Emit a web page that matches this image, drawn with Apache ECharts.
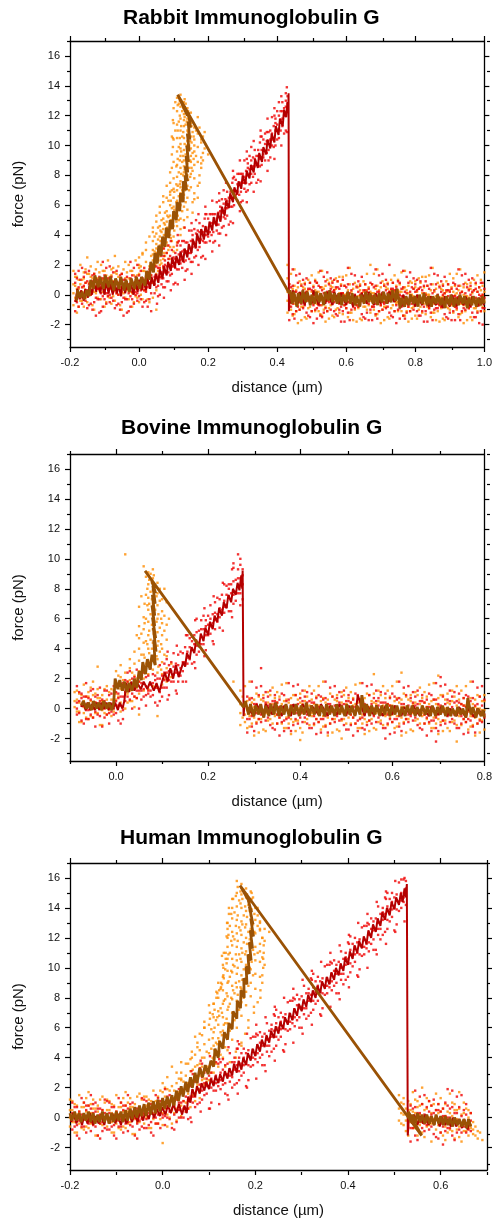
<!DOCTYPE html>
<html><head><meta charset="utf-8">
<script src="https://cdn.jsdelivr.net/npm/echarts@6/dist/echarts.min.js"></script>
<style>html,body{margin:0;padding:0;background:#fff}#c{width:495px;height:1219px}</style>
</head><body><div id="c"></div>
<script>
// ---------- DATA (columns: [x, y1, y2, ...]) ----------
const titles = ['Rabbit Immunoglobulin G', 'Bovine Immunoglobulin G', 'Human Immunoglobulin G'];
const xRanges = [[-0.2, 1.0], [-0.1, 0.8], [-0.2, 0.7]];
const xMajorTicks = [[-0.2, 0.0, 0.2, 0.4, 0.6, 0.8, 1.0], [0.0, 0.2, 0.4, 0.6, 0.8], [-0.2, 0.0, 0.2, 0.4, 0.6]];
const xMinorTicks = [[-0.1, 0.1, 0.3, 0.5, 0.7, 0.9], [-0.1, 0.1, 0.3, 0.5, 0.7], [-0.1, 0.1, 0.3, 0.5, 0.7]];
const yRange = [-3.5, 17];
const yMajorTicks = [-2, 0, 2, 4, 6, 8, 10, 12, 14, 16];
const yMinorTicks = [-3, -1, 1, 3, 5, 7, 9, 11, 13, 15, 17];

// Panel 1: Rabbit
const rabbitOrangeDots = [
[-0.19,-0.7,0.1,0.7,1.6],[-0.18,-0.3,0.4,1.2,-1.2],[-0.17,0.7,-0.4,2.0,0.1],[-0.16,-0.8,1.1,0.5,1.5],[-0.15,1.4,0.2,-0.5,2.5],
[-0.14,0.6,1.9,0.0,1.2],[-0.13,0.9,-1.0,1.4,0.2],[-0.12,2.2,0.5,-0.2,1.1],[-0.11,-0.3,0.5,1.1,2.0],[-0.10,0.1,0.8,1.6,-0.8],
[-0.09,1.0,-0.1,2.3,0.4],[-0.08,-0.6,1.3,0.7,1.7],[-0.07,1.5,0.3,-0.4,2.6],[-0.06,0.6,1.9,0.0,1.2],[-0.05,0.9,-1.0,1.4,0.2],
[-0.04,2.2,0.5,-0.2,1.1],[-0.03,-0.3,0.5,1.1,2.0],[-0.02,0.1,0.8,1.6,-0.8],[-0.01,1.0,-0.1,2.3,0.4],[0.00,-0.5,1.4,0.8,1.8],
[0.01,1.6,0.4,-0.3,2.7],[0.02,0.9,2.2,0.3,1.5],[0.03,1.4,-0.5,1.9,0.7],
[0.04,0.8,1.6,2.3,3.0,3.6,-0.2,2.7],[0.045,1.0,2.0,2.9,3.9],[0.05,1.4,2.1,2.8,3.4,4.1,-1.0,0.3,3.1],[0.055,1.6,2.5,3.7,4.5],
[0.06,2.0,2.6,3.3,3.9,4.6,2.9,1.2],[0.065,2.1,3.0,4.2,5.0],[0.07,2.4,3.1,3.7,4.4,5.1,3.5,1.8],[0.075,2.6,3.6,4.7,5.5],
[0.08,2.8,3.5,4.2,4.9,5.6,3.9],[0.085,3.0,4.1,5.2,6.3],[0.09,3.2,4.0,4.6,5.3,6.0,6.7,4.4],[0.095,3.6,4.8,5.8,7.0],
[0.10,3.9,4.6,5.2,5.9,6.5,7.1,7.8,5.5,10.4],[0.11,4.6,5.5,6.3,7.0,7.9,8.7,9.6,10.5,11.4,12.3,13.2],[0.115,5.0,6.6,8.2,9.9,11.6,12.8],
[0.12,5.1,6.0,6.8,7.6,8.5,9.3,10.1,11.0,11.8,12.6,13.4,7.2,9.8],[0.125,5.6,7.0,8.9,10.6,12.3],
[0.13,5.9,6.7,7.4,8.2,9.0,9.7,10.5,11.3,12.1,12.9,8.6,11.7],[0.135,6.2,7.8,9.4,11.4,12.8],
[0.14,6.5,7.3,8.0,8.8,9.5,10.3,11.0,11.8,12.5,9.1,10.7],[0.145,7.0,8.5,10.0,11.2,12.0],
[0.15,7.2,8.1,8.9,9.8,10.6,11.5,12.2,9.3],[0.155,8.3,9.5,10.9],[0.16,7.8,8.7,9.6,10.4,11.2,10.0],[0.17,8.9,9.9,10.8],[0.18,8.8,10.2],
[0.43,-1.2,-0.4,0.2,1.1,2.0],[0.44,0.1,-1.0,1.4,-0.5],[0.45,0.6,-0.6,-1.3,1.7],[0.46,0.0,-1.9,0.5,-0.7],[0.47,-0.8,-0.1,0.7,-1.7],
[0.48,-1.5,0.4,-0.2,0.8],[0.49,-0.3,1.0,-0.9,0.3],[0.50,1.3,-0.4,-1.1,0.2],[0.51,-1.1,-0.5,0.3,1.0],[0.52,0.2,-1.1,1.5,-0.4],
[0.53,0.5,-0.7,-1.4,1.6],[0.54,0.1,-1.8,0.6,-0.8],[0.55,-0.9,0.0,0.8,-1.6],[0.56,-1.4,0.5,-0.3,0.9],[0.57,-0.2,1.1,-1.0,0.4],
[0.58,1.2,-0.5,-1.2,0.1],[0.59,-1.3,-0.3,0.1,1.2],[0.60,0.0,-0.9,1.3,-0.6],[0.61,0.7,-0.5,-1.2,1.8],[0.62,-0.1,-1.7,0.4,-0.6],
[0.63,-0.7,-0.2,0.6,-1.8],[0.64,-1.6,0.3,-0.1,0.7],[0.65,-0.4,0.9,-0.8,0.2],[0.66,1.4,-0.3,-1.0,0.3],[0.67,-1.2,-0.4,0.2,2.0],
[0.68,0.1,-1.0,1.4,-0.5],[0.69,0.6,-0.6,-1.3,1.7],[0.70,0.0,-1.9,0.5,-0.7],[0.71,-0.8,-0.1,0.7,-1.7],[0.72,-1.5,0.4,-0.2,0.8],
[0.73,-0.3,1.0,-0.9,0.3],[0.74,1.3,-0.4,-1.1,0.2],[0.75,-1.1,-0.5,0.3,1.0],[0.76,0.2,-1.1,1.5,-0.4],[0.77,0.5,-0.7,-1.4,1.6],
[0.78,0.1,-1.8,0.6,-0.8],[0.79,-0.9,0.0,0.8,-1.6],[0.80,-1.4,0.5,-0.3,0.9],[0.81,-0.2,1.1,-1.0,0.4],[0.82,1.2,-0.5,-1.2,0.1],
[0.83,-1.3,-0.3,0.1,1.2],[0.84,0.0,-0.9,1.3,-0.6],[0.85,0.7,-0.5,-1.2,1.8],[0.86,-0.1,-1.7,0.4,-0.6],[0.87,-0.7,-0.2,0.6,-1.8],
[0.88,-1.6,0.3,-0.1,0.7],[0.89,-0.4,0.9,-0.8,0.2],[0.90,1.4,-0.3,-1.0,0.3],[0.91,-1.2,-0.4,0.2,1.1],[0.92,0.1,-1.0,1.4,-0.5],
[0.93,0.6,-0.6,-1.3,1.7],[0.94,0.0,-1.9,0.5,-0.7],[0.95,-0.8,-0.1,0.7,-1.7],[0.96,-1.5,0.4,-0.2,0.8],[0.97,-0.3,1.0,-0.9,0.3],
[0.98,1.3,-0.4,-1.1,0.2],[0.99,-1.1,-0.5,0.3,1.0],[1.00,0.2,-1.1,1.5,-0.4]
];
const rabbitOrangeDotsExtra = [
[-0.185,-0.2,0.6,1.2],[-0.175,0.4,-0.8,1.0],[-0.165,1.0,0.2,-0.4],[-0.155,-0.2,0.8,1.7],[-0.145,1.4,0.1,0.8],[-0.135,0.5,1.1,-0.7],
[-0.125,1.7,0.6,0.1],[-0.115,0.3,1.5,0.5],[-0.105,0.2,1.0,1.6],[-0.095,0.7,-0.5,1.3],[-0.085,1.2,0.4,-0.2],[-0.075,-0.1,0.9,1.8],
[-0.065,1.4,0.1,0.8],[-0.055,0.5,1.1,-0.7],[-0.045,1.7,0.6,0.1],[-0.035,0.3,1.5,0.5],[-0.025,0.2,1.0,1.6],[-0.015,0.7,-0.5,1.3],
[-0.005,1.3,0.5,-0.2],[0.005,0.0,1.0,1.9],[0.015,1.6,0.3,1.0],[0.025,0.9,1.5,-0.3],[0.035,1.3,2.0,2.6],
[0.062,2.3,3.6,4.3],[0.072,2.8,4.0,4.8],[0.082,3.3,4.5,5.3],[0.092,3.8,5.0,6.3],[0.102,4.3,5.7,6.9],[0.108,4.9,6.2,7.4,8.6],
[0.112,5.3,7.3,9.1,11.0,12.7],[0.118,5.8,7.4,9.0,10.5,12.0,13.0],[0.122,6.4,8.1,9.6,11.3,13.0],[0.128,6.5,8.0,9.3,10.9,12.5],
[0.132,7.0,8.4,10.1,11.9,13.1],[0.138,7.1,8.6,10.0,11.6,12.2],[0.142,7.7,9.2,10.9,12.3],[0.148,7.9,9.0,10.3,11.7],
[0.152,8.5,10.2,11.3],[0.158,9.1,10.6],[0.165,9.3,11.0],
[0.435,-0.7,0.1,0.7],[0.445,-0.2,-1.4,0.4],[0.455,0.3,-0.5,-1.1],[0.465,-1.0,0.0,0.9],[0.475,0.5,-0.8,-0.1],[0.485,-0.4,0.2,-1.6],[0.495,0.8,-0.3,-0.8],[0.505,-0.6,0.6,-0.4],
[0.515,-0.6,0.2,0.8],[0.525,-0.3,-1.3,0.5],[0.535,0.4,-0.6,-1.0],[0.545,-1.1,0.1,1.0],[0.555,0.6,-0.7,-0.2],[0.565,-0.3,0.3,-1.5],[0.575,0.9,-0.4,-0.9],[0.585,-0.5,0.7,-0.3],
[0.595,-0.7,0.0,0.6],[0.605,-0.2,-1.5,0.3],[0.615,0.2,-0.5,-1.2],[0.625,-1.0,-0.1,0.8],[0.635,0.5,-0.9,-0.1],[0.645,-0.4,0.1,-1.7],[0.655,0.7,-0.3,-0.8],[0.665,-0.7,0.5,-0.4],
[0.675,-0.8,0.1,0.7],[0.685,-0.2,-1.4,0.4],[0.695,0.3,-0.4,-1.1],[0.705,-1.0,0.0,0.9],[0.715,0.5,-0.8,-0.2],[0.725,-0.4,0.2,-1.6],[0.735,0.8,-0.3,-0.7],[0.745,-0.6,0.6,-0.5],
[0.755,-0.7,0.2,0.7],[0.765,-0.3,-1.4,0.4],[0.775,0.3,-0.6,-1.1],[0.785,-1.1,0.0,0.9],[0.795,0.4,-0.8,-0.1],[0.805,-0.5,0.2,-1.6],[0.815,0.8,-0.4,-0.8],[0.825,-0.6,0.5,-0.4],
[0.835,-0.8,0.0,0.6],[0.845,-0.3,-1.5,0.3],[0.855,0.2,-0.6,-1.2],[0.865,-1.1,-0.1,0.8],[0.875,0.4,-0.9,-0.2],[0.885,-0.5,0.1,-1.7],[0.895,0.7,-0.4,-0.9],[0.905,-0.7,0.5,-0.5],
[0.915,-0.8,0.0,0.6],[0.925,-0.3,-1.5,0.3],[0.935,0.2,-0.6,-1.2],[0.945,-1.1,-0.1,0.8],[0.955,0.4,-0.9,-0.2],[0.965,-0.5,0.1,-1.7],[0.975,0.7,-0.4,-0.9],[0.985,-0.7,0.5,-0.5],
[0.995,-0.8,0.0,0.6]
];
const rabbitOrangeDotsOuter = [
[0.0,2.5,2.0],[0.01,2.8],[0.02,3.5,3.0],[0.03,3.9],[0.04,4.5,4.2],[0.05,4.9,5.3],[0.06,5.5,5.9],[0.07,6.2,6.6],[0.08,6.5,7.3],
[0.09,7.5,8.2,6.9],[0.095,8.5,9.4,10.6],[0.098,10.5,11.7,9.9],[0.1,11.5,12.5,8.9],[0.105,12.9,11.0],
[0.088,2.4],[0.10,2.9,3.2],[0.11,3.5,3.0],[0.12,4.0,4.4],[0.13,4.5,5.0],[0.14,5.2,5.7],[0.155,5.5,6.2],[0.16,6.4,6.8],
[0.17,6.5,7.3,11.9],[0.175,7.5,8.0,11.2],[0.18,8.5,9.2,10.4],[0.185,9.5,10.6,9.0],[0.19,9.8,10.9],[0.2,9.4]
];
const rabbitRedDots = [
[-0.185,0.8,-0.4,-1.1,1.4],[-0.175,1.6,-0.1,-0.8,0.5],[-0.165,0.5,-0.6,1.8,-0.1],[-0.155,0.2,1.5,-0.4,0.8],[-0.145,-0.7,0.1,0.7,1.6],
[-0.135,-1.0,0.9,0.3,1.3],[-0.125,0.5,-1.4,1.0,-0.2],[-0.115,-0.3,0.4,1.2,-1.2],[-0.105,1.1,-0.1,-0.8,2.2],[-0.095,1.8,0.1,-0.6,0.7],
[-0.085,0.6,-0.5,1.9,0.0],[-0.075,0.2,1.5,-0.4,0.8],[-0.065,-0.7,0.1,0.7,1.6],[-0.055,-1.0,0.9,0.3,1.3],[-0.045,0.5,-1.4,1.0,-0.2],
[-0.035,-0.3,0.4,1.2,-1.2],[-0.025,1.1,-0.1,-0.8,2.2],[-0.015,1.8,0.1,-0.6,0.7],[-0.005,0.7,-0.4,2.0,0.1],[0.005,0.3,1.6,-0.3,0.9],
[0.015,-0.5,0.3,0.9,1.8],[0.025,-0.8,1.1,0.5,1.5],[0.035,0.8,-1.1,1.3,0.1],
[0.045,0.1,0.7,1.2,1.9],[0.055,0.6,1.2,1.8,-0.1],[0.065,1.5,0.7,2.6,1.1],[0.075,0.5,2.0,1.5,2.3],[0.085,2.4,1.5,0.9,3.3],
[0.095,1.9,3.0,1.4,2.4],[0.105,2.4,0.8,2.8,1.8],[0.115,3.6,2.2,1.7,2.7],[0.125,1.8,2.4,2.9,3.6],[0.135,2.3,2.9,3.5,1.6],
[0.145,3.2,2.4,4.3,2.8],[0.155,2.2,3.7,3.2,4.0],[0.165,4.1,3.2,2.6,5.0],[0.175,3.7,4.8,3.2,4.2],[0.185,4.2,2.6,4.6,3.6],
[0.195,5.4,4.0,3.5,4.5],[0.205,3.6,4.2,4.7,5.4],[0.215,4.2,4.8,5.4,3.5],[0.225,5.1,4.3,6.2,4.7],[0.235,4.1,5.6,5.1,5.9],
[0.245,6.1,5.2,4.6,7.0],[0.255,5.8,6.9,5.3,6.3],[0.265,6.5,4.9,6.9,5.9],[0.275,7.9,6.5,6.0,7.0],[0.285,6.3,6.9,7.4,8.1],
[0.295,6.9,7.5,8.1,6.2],[0.305,7.9,7.1,9.0,7.5],[0.315,7.0,8.5,8.0,8.8],[0.325,9.0,8.1,7.5,9.9],[0.335,8.6,9.7,8.1,9.1],
[0.345,9.3,7.7,9.7,8.7],[0.355,10.6,9.2,8.7,9.7],[0.365,9.0,9.6,10.1,10.8],[0.375,9.7,10.3,10.9,9.0],[0.385,10.8,10.0,11.9,10.4],
[0.395,10.0,11.5,11.0,11.8],[0.405,12.0,11.1,10.5,12.9],[0.415,11.8,12.9,11.3,12.3],[0.425,12.6,11.0,13.0,12.0,13.5],[0.43,12.8,13.3],
[0.435,-0.8,-0.1,0.7,-1.7],[0.445,0.6,-0.6,-1.3,1.7],[0.455,1.3,-0.4,-1.1,0.2],[0.465,0.1,-1.0,1.4,-0.5],[0.475,-0.3,1.0,-0.9,0.3],
[0.485,-1.2,-0.4,0.2,1.1],[0.495,-1.5,0.4,-0.2,0.8],[0.505,0.0,-1.9,0.5,-0.7],[0.515,-0.9,0.0,0.8,-1.6],[0.525,0.5,-0.7,-1.4,1.6],
[0.535,1.2,-0.5,-1.2,0.1],[0.545,0.2,-1.1,1.5,-0.4],[0.555,-0.2,1.1,-1.0,0.4],[0.565,-1.1,-0.5,0.3,1.0],[0.575,-1.4,0.5,-0.3,0.9],
[0.585,0.1,-1.8,0.6,-0.8],[0.595,-0.7,-0.2,0.6,-1.8],[0.605,0.7,-0.5,-1.2,1.8],[0.615,1.4,-0.3,-1.0,0.3],[0.625,0.0,-0.9,1.3,-0.6],
[0.635,-0.4,0.9,-0.8,0.2],[0.645,-1.3,-0.3,0.1,1.2],[0.655,-1.6,0.3,-0.1,0.7],[0.665,-0.1,-1.7,0.4,-0.6],[0.675,-0.8,-0.1,0.7,-1.7],
[0.685,0.6,-0.6,-1.3,1.7],[0.695,1.3,-0.4,-1.1,0.2],[0.705,0.1,-1.0,1.4,-0.5],[0.715,-0.3,1.0,-0.9,0.3],[0.725,-1.2,-0.4,0.2,2.0],
[0.735,-1.5,0.4,-0.2,0.8],[0.745,0.0,-1.9,0.5,-0.7],[0.755,-0.9,0.0,0.8,-1.6],[0.765,0.5,-0.7,-1.4,1.6],[0.775,1.2,-0.5,-1.2,0.1],
[0.785,0.2,-1.1,1.5,-0.4],[0.795,-0.2,1.1,-1.0,0.4],[0.805,-1.1,-0.5,0.3,1.0],[0.815,-1.4,0.5,-0.3,0.9],[0.825,0.1,-1.8,0.6,-0.8],
[0.835,-0.7,-0.2,0.6,-1.8],[0.845,0.7,-0.5,-1.2,1.8],[0.855,1.4,-0.3,-1.0,0.3],[0.865,0.0,-0.9,1.3,-0.6],[0.875,-0.4,0.9,-0.8,0.2],
[0.885,-1.3,-0.3,0.1,1.2],[0.895,-1.6,0.3,-0.1,0.7],[0.905,-0.1,-1.7,0.4,-0.6],[0.915,-0.8,-0.1,0.7,-1.7],[0.925,0.6,-0.6,-1.3,1.7],
[0.935,1.3,-0.4,-1.1,0.2],[0.945,0.1,-1.0,1.4,-0.5],[0.955,-0.3,1.0,-0.9,0.3],[0.965,-1.2,-0.4,0.2,1.1],[0.975,-1.5,0.4,-0.2,0.8],
[0.985,0.0,-1.9,0.5,-0.7],[0.995,-0.9,0.0,0.8,-2.0]
];
const rabbitRedDotsExtra = [
[-0.18,1.1,0.0,-0.5],[-0.17,-0.2,1.0,0.0],[-0.16,-0.2,0.6,1.2],[-0.15,0.3,-0.9,0.9],[-0.14,0.8,0.0,-0.6],[-0.13,-0.5,0.5,1.4],
[-0.12,1.0,-0.3,0.4],[-0.11,0.1,0.7,-1.1],[-0.10,1.3,0.2,-0.3],[-0.09,-0.1,1.1,0.1],[-0.08,-0.2,0.6,1.2],[-0.07,0.3,-0.9,0.9],
[-0.06,0.8,0.0,-0.6],[-0.05,-0.5,0.5,1.4],[-0.04,1.0,-0.3,0.4],[-0.03,0.1,0.7,-1.1],[-0.02,1.3,0.2,-0.3],[-0.01,0.0,1.2,0.2],
[0.00,-0.1,0.7,1.3],[0.01,0.5,-0.8,1.1],[0.02,1.0,0.2,-0.4],[0.03,-0.3,0.8,1.7],
[0.05,0.5,1.3,1.9],[0.06,1.2,0.0,1.8],[0.07,1.9,1.1,0.5],[0.08,0.9,1.9,2.8],[0.09,2.6,1.3,2.0],[0.10,1.9,2.5,0.7],
[0.11,3.3,2.2,1.7],[0.12,2.1,3.3,2.3],[0.13,2.2,3.0,3.6],[0.14,2.9,1.7,3.5],[0.15,3.6,2.8,2.2],[0.16,2.5,3.5,4.4],
[0.17,4.3,3.0,3.7],[0.18,3.7,4.3,2.5],[0.19,5.1,4.0,3.5],[0.20,3.9,5.1,4.1],[0.21,4.0,4.8,5.4],[0.22,4.8,3.6,5.4],
[0.23,5.5,4.7,4.1],[0.24,4.5,5.5,6.4],[0.25,6.4,5.1,5.8],[0.26,5.9,6.5,4.7],[0.27,7.5,6.4,5.9],[0.28,6.5,7.7,6.7],
[0.29,6.7,7.5,8.1],[0.30,7.5,6.3,8.1],[0.31,8.3,7.5,6.9],[0.32,7.4,8.4,9.3],[0.33,9.2,7.9,8.6],[0.34,8.7,9.3,7.5],
[0.35,10.2,9.1,8.6],[0.36,9.2,10.4,9.4],[0.37,9.5,10.3,10.9],[0.38,10.4,9.2,11.0],[0.39,11.3,10.5,9.9],[0.40,10.4,11.4,12.3],
[0.41,12.3,11.0,11.7],[0.42,12.0,12.5,10.8],
[0.44,0.5,-0.8,-0.1],[0.45,-0.4,0.2,-1.6],[0.46,0.8,-0.3,-0.8],[0.47,-0.6,0.6,-0.4],[0.48,-0.7,0.1,0.7],[0.49,-0.2,-1.4,0.4],[0.50,0.3,-0.5,-1.1],[0.51,-1.0,0.0,0.9],
[0.52,0.6,-0.7,-0.2],[0.53,-0.3,0.3,-1.5],[0.54,0.9,-0.4,-0.9],[0.55,-0.5,0.7,-0.3],[0.56,-0.6,0.2,0.8],[0.57,-0.3,-1.3,0.5],[0.58,0.4,-0.6,-1.0],[0.59,-1.1,0.1,1.0],
[0.60,0.5,-0.9,-0.1],[0.61,-0.4,0.1,-1.7],[0.62,0.7,-0.3,-0.8],[0.63,-0.7,0.5,-0.4],[0.64,-0.7,0.0,0.6],[0.65,-0.2,-1.5,0.3],[0.66,0.2,-0.5,-1.2],[0.67,-1.0,-0.1,0.8],
[0.68,0.5,-0.8,-0.2],[0.69,-0.4,0.2,-1.6],[0.70,0.8,-0.3,-0.7],[0.71,-0.6,0.6,-0.5],[0.72,-0.8,0.1,0.7],[0.73,-0.2,-1.4,0.4],[0.74,0.3,-0.4,-1.1],[0.75,-1.0,0.0,0.9],
[0.76,0.4,-0.8,-0.1],[0.77,-0.5,0.2,-1.6],[0.78,0.8,-0.4,-0.8],[0.79,-0.6,0.5,-0.4],[0.80,-0.7,0.2,0.7],[0.81,-0.3,-1.4,0.4],[0.82,0.3,-0.6,-1.1],[0.83,-1.1,0.0,0.9],
[0.84,0.4,-0.9,-0.2],[0.85,-0.5,0.1,-1.7],[0.86,0.7,-0.4,-0.9],[0.87,-0.7,0.5,-0.5],[0.88,-0.8,0.0,0.6],[0.89,-0.3,-1.5,0.3],[0.90,0.2,-0.6,-1.2],[0.91,-1.1,-0.1,0.8],
[0.92,0.4,-0.9,-0.2],[0.93,-0.5,0.1,-1.7],[0.94,0.7,-0.4,-0.9],[0.95,-0.7,0.5,-0.5],[0.96,-0.8,0.0,0.6],[0.97,-0.3,-1.5,0.3],[0.98,0.2,-0.6,-1.2],[0.99,-1.1,-0.1,0.8],
[1.00,0.4,-0.9,-0.2]
];
const rabbitRedDotsOuter = [
[0.052,2.7,-0.6],[0.072,3.1,-0.2,2.6],[0.092,3.6,0.3],[0.112,4.0,0.7,3.5],[0.132,4.5,1.0],[0.152,4.8,1.4,4.3],[0.172,5.4,2.0],
[0.192,5.9,2.4,5.4],[0.212,6.3,2.9],[0.232,6.8,3.3,6.3],[0.252,7.5,4.0],[0.272,8.3,4.8,7.8],[0.292,9.0,5.6],[0.312,9.6,6.2,9.1],
[0.332,10.3,6.9],[0.352,11.0,7.6,10.6],[0.372,11.8,8.3],[0.392,12.5,9.1,12.0],[0.412,13.3,10.0],[0.428,13.9,10.9]
];
const rabbitBrownLine = [
[-0.181,-0.4],[-0.178,0.3],[-0.17,-0.2],[-0.165,0.2],[-0.158,-0.3],[-0.152,0.3],[-0.145,-0.1],[-0.14,1.0],[-0.132,0.4],[-0.128,1.3],
[-0.118,0.5],[-0.113,1.2],[-0.103,0.4],[-0.098,1.3],[-0.088,0.5],[-0.083,1.2],[-0.073,0.3],[-0.068,1.1],[-0.058,0.4],[-0.053,1.2],
[-0.043,0.3],[-0.038,1.0],[-0.028,0.2],[-0.023,1.1],[-0.013,0.4],[-0.008,1.2],[0.002,0.4],[0.007,1.2],[0.017,0.6],[0.022,1.6],
[0.030,1.0],[0.034,2.2],[0.042,1.5],[0.046,2.8],[0.053,2.1],[0.057,3.3],[0.064,2.6],[0.068,3.9],[0.075,3.2],[0.079,4.5],
[0.086,3.8],[0.09,5.0],[0.097,4.4],[0.1,5.6],[0.108,5.0],[0.11,6.2],[0.118,5.6],[0.12,6.8],[0.128,6.2],[0.128,7.6],
[0.137,7.0],[0.133,8.0],[0.14,7.6],[0.134,8.6],[0.141,8.2],[0.136,9.3],[0.143,8.9],[0.138,10.0],[0.145,9.6],[0.14,10.8],
[0.147,10.4],[0.142,11.6],[0.149,11.2],[0.143,12.2],[0.15,11.6],[0.132,12.6],[0.14,12.0],[0.112,13.4],[0.435,0.1],
[0.437,0.3],[0.444,-0.6],[0.448,0.2],[0.457,-0.8],[0.461,0.1],[0.470,-0.6],[0.474,0.3],[0.483,-0.5],[0.487,0.2],[0.496,-0.7],
[0.500,0.0],[0.509,-0.6],[0.513,0.2],[0.522,-0.5],[0.526,0.1],[0.535,-0.7],[0.539,0.2],[0.548,-0.4],[0.552,0.3],[0.561,-0.5],
[0.565,0.1],[0.574,-0.6],[0.578,0.1],[0.587,-0.7],[0.591,0.0],[0.600,-0.5],[0.604,0.2],[0.613,-0.6],[0.617,0.1],[0.626,-0.7],
[0.630,-0.1],[0.639,-0.8],[0.643,0.0],[0.652,-0.6],[0.656,0.2],[0.665,-0.5],[0.669,0.1],[0.678,-0.6],[0.682,0.0],[0.691,-0.7],
[0.695,0.1],[0.704,-0.5],[0.708,0.2],[0.717,-0.6],[0.721,0.1],[0.730,-0.5],[0.734,0.3],[0.743,-0.4],[0.747,0.4],[0.752,-0.3],
[0.756,-0.9],[0.760,-0.2],[0.769,-0.8],[0.773,-0.1],[0.782,-0.7],[0.786,0.0],[0.795,-0.6],[0.799,-0.1],[0.808,-0.8],[0.812,0.0],
[0.821,-0.6],[0.825,0.1],[0.834,-0.7],[0.838,-0.1],[0.847,-0.8],[0.851,-0.1],[0.860,-0.6],[0.864,0.0],[0.873,-0.7],[0.877,-0.2],
[0.886,-0.9],[0.890,-0.1],[0.899,-0.7],[0.903,0.0],[0.912,-0.8],[0.916,-0.2],[0.925,-0.7],[0.929,0.0],[0.938,-0.6],[0.942,-0.1],
[0.951,-0.9],[0.955,-0.2],[0.964,-0.7],[0.968,-0.1],[0.977,-0.8],[0.981,-0.2],[0.990,-0.7],[0.994,-0.1],[1.0,-0.6]
];
const rabbitRedLine = [
[-0.183,-0.5],[-0.179,0.4],[-0.172,-0.3],[-0.168,0.3],[-0.160,-0.4],[-0.156,0.4],[-0.148,-0.2],[-0.144,0.6],[-0.136,0.0],[-0.132,0.9],
[-0.124,0.2],[-0.120,0.9],[-0.112,0.1],[-0.108,0.8],[-0.100,0.0],[-0.096,0.9],[-0.088,0.1],[-0.084,0.8],[-0.076,0.0],[-0.072,0.9],
[-0.064,0.1],[-0.060,0.7],[-0.052,-0.1],[-0.048,0.8],[-0.040,0.1],[-0.036,0.9],[-0.028,0.2],[-0.024,0.8],[-0.016,0.0],[-0.012,0.9],
[-0.004,0.2],[0.000,1.0],[0.008,0.3],[0.012,1.0],[0.020,0.3],[0.024,1.1],[0.032,0.4],[0.036,1.2],[0.044,0.6],[0.048,1.4],
[0.056,0.8],[0.060,1.7],[0.068,1.1],[0.072,1.9],[0.080,1.3],[0.084,2.2],[0.092,1.6],[0.096,2.5],[0.104,1.8],[0.108,2.6],
[0.116,2.0],[0.120,2.9],[0.128,2.2],[0.132,3.1],[0.140,2.5],[0.144,3.4],[0.152,2.8],[0.156,3.7],[0.164,3.1],[0.168,4.1],
[0.176,3.4],[0.180,4.4],[0.188,3.7],[0.192,4.6],[0.200,4.0],[0.204,4.9],[0.212,4.3],[0.216,5.2],[0.224,4.6],[0.228,5.5],
[0.236,4.9],[0.240,5.9],[0.248,5.3],[0.252,6.3],[0.260,5.8],[0.264,6.8],[0.272,6.2],[0.276,7.2],[0.284,6.7],[0.288,7.6],
[0.296,7.1],[0.300,8.0],[0.308,7.4],[0.312,8.3],[0.320,7.8],[0.324,8.7],[0.332,8.2],[0.336,9.1],[0.344,8.5],[0.348,9.5],
[0.356,8.9],[0.360,9.9],[0.368,9.4],[0.372,10.4],[0.380,9.8],[0.384,10.8],[0.392,10.2],[0.396,11.3],[0.404,10.7],[0.408,11.8],
[0.416,11.3],[0.420,12.4],[0.426,11.9],[0.430,12.9],[0.432,12.3],[0.433,13.5],[0.434,-1.1],[0.436,0.2],
[0.44,-0.6],[0.445,0.3],[0.46,-0.6],[0.465,0.2],[0.48,-0.7],[0.485,0.2],[0.50,-0.6],[0.505,0.3],[0.52,-0.7],[0.525,0.1],
[0.54,-0.6],[0.545,0.2],[0.56,-0.7],[0.565,0.2],[0.58,-0.6],[0.585,0.1],[0.60,-0.7],[0.605,0.2],[0.62,-0.8],[0.625,0.0],
[0.64,-0.7],[0.645,0.1],[0.66,-0.6],[0.665,0.2],[0.68,-0.7],[0.685,0.1],[0.70,-0.6],[0.705,0.2],[0.72,-0.6],[0.725,0.2],
[0.74,-0.5],[0.745,0.4],[0.76,-0.8],[0.765,0.0],[0.78,-0.7],[0.785,0.0],[0.80,-0.8],[0.805,0.0],[0.82,-0.7],[0.825,0.0],
[0.84,-0.8],[0.845,-0.1],[0.86,-0.7],[0.865,0.0],[0.88,-0.9],[0.885,-0.1],[0.90,-0.8],[0.905,0.0],[0.92,-0.8],[0.925,-0.1],
[0.94,-0.7],[0.945,-0.1],[0.96,-0.8],[0.965,-0.1],[0.98,-0.8],[0.985,-0.2],[1.0,-0.7]
];

// Panel 2: Bovine
const bovineOrangeDots = [
[-0.09,1.1,0.5,0.1],[-0.08,-0.2,0.4,1.0,-0.9],[-0.07,0.5,-0.3,1.6,0.1],[-0.06,-0.7,0.8,0.3,1.1],[-0.05,0.9,0.0,-0.6,1.8],
[-0.04,0.2,1.3,-0.3,0.7,2.8],[-0.03,0.5,-1.1,0.9,-0.1],[-0.02,1.5,0.1,-0.4,0.6],[-0.01,-0.5,0.1,0.6,1.3],
[0.00,0.2,1.0,1.8,2.5,0.6],[0.01,0.4,1.3,2.1,2.9,-0.2],[0.02,0.0,0.9,1.6,2.4,10.3],[0.03,0.5,1.2,1.9,2.7,3.3],
[0.04,0.8,1.5,2.2,3.0,3.8,0.1],[0.05,1.0,1.8,2.5,3.2,4.0,4.7,-0.4],[0.06,1.2,2.0,2.8,3.6,4.4,5.3,6.1,9.5],[0.065,3.0,4.5,6.0,7.6,8.8],
[0.07,1.3,2.3,3.2,4.0,4.9,5.8,6.6,7.4,8.3,9.1],[0.075,2.9,4.6,6.3,7.8,9.0],[0.08,1.5,2.6,3.5,4.4,5.3,6.2,7.0,7.9,8.7,9.3],
[0.085,3.0,4.8,6.6,8.1],[0.09,1.4,2.4,3.3,4.2,5.1,6.0,6.9,7.7,8.4,-0.5],[0.095,3.8,5.4,7.2,8.0],[0.10,1.6,2.3,3.1,4.0,4.9,5.7,6.5,7.3],
[0.11,1.8,2.7,3.5,4.6,5.6],[0.12,2.1,3.0],[0.255,1.8],
[0.27,-1.1,-0.3,0.3,1.2],[0.28,0.2,-0.9,1.5,-0.4],[0.29,0.7,-0.5,-1.2,1.8],[0.30,0.1,-1.8,0.6,-0.6],[0.31,-0.7,0.0,0.8,-1.6],
[0.32,-1.4,0.5,-0.1,0.9],[0.33,-0.2,1.1,-0.8,0.4],[0.34,1.4,-0.3,-1.0,0.3],[0.35,-1.0,-0.4,0.4,1.1],[0.36,0.3,-1.0,1.6,-0.3],
[0.37,0.6,-0.6,-1.3,1.7],[0.38,0.2,-1.7,0.7,-0.7],[0.39,-0.8,0.1,0.9,-1.5],[0.40,-1.3,0.4,0.0,1.0,-2.1],[0.41,-0.1,1.2,-0.9,0.5],
[0.42,1.5,-0.2,-1.1,0.2],[0.43,-1.1,-0.3,0.3,1.2],[0.44,0.2,-0.9,1.5,-0.4],[0.45,0.7,-0.5,-1.2,1.8],[0.46,0.1,-1.8,0.6,-0.6],
[0.47,-0.7,0.0,0.8,-1.6],[0.48,-1.4,0.5,-0.1,0.9],[0.49,-0.2,1.1,-0.8,0.4,-2.0],[0.50,1.4,-0.3,-1.0,0.3],[0.51,-1.0,-0.4,0.4,1.1],
[0.52,0.3,-1.0,1.6,-0.3],[0.53,0.6,-0.6,-1.3,1.7],[0.54,0.2,-1.7,0.7,-0.7],[0.55,-0.8,0.1,0.9,-1.5],[0.56,-1.3,0.4,0.0,1.0,2.3],
[0.57,-0.1,1.2,-0.9,0.5],[0.58,1.5,-0.2,-1.1,0.2],[0.59,-1.1,-0.3,0.3,1.2],[0.60,0.2,-0.9,1.5,-0.4],[0.61,0.7,-0.5,-1.2,1.8],
[0.62,0.1,-1.8,0.6,-0.6,2.4],[0.63,-0.7,0.0,0.8,-1.6],[0.64,-1.4,0.5,-0.1,0.9],[0.65,-0.2,1.1,-0.8,0.4],[0.66,1.4,-0.3,-1.0,0.3],
[0.67,-1.0,-0.4,0.4,1.1],[0.68,0.3,-1.0,1.6,-0.3],[0.69,0.6,-0.6,-1.3,1.7],[0.70,0.2,-1.7,0.7,-0.7,2.2],[0.71,-0.8,0.1,0.9,-1.5],
[0.72,-1.3,0.4,0.0,1.0],[0.73,-0.1,1.2,-0.9,0.5],[0.74,1.5,-0.2,-1.1,0.2,-2.2],[0.75,-1.1,-0.3,0.3,1.2],[0.76,0.2,-0.9,1.5,-0.4],
[0.77,0.7,-0.5,-1.2,1.8],[0.78,0.1,-1.8,0.6,-0.6],[0.79,-0.7,0.0,0.8,-1.6],[0.80,-1.4,0.5,-0.1,0.9]
];
const bovineOrangeDotsExtra = [
[-0.085,-0.2,0.6,1.2],[-0.075,0.3,-0.9,0.9],[-0.065,0.8,0.0,-0.6],[-0.055,-0.5,0.5,1.4],[-0.045,1.0,-0.3,0.4],
[-0.035,0.1,0.7,-1.1],[-0.025,1.3,0.2,-0.3],[-0.015,-0.1,1.1,0.1],[-0.005,-0.2,0.6,1.2],
[0.005,0.8,1.6,2.2],[0.015,1.3,0.1,1.9],[0.025,1.8,1.0,0.4],[0.035,0.5,1.5,2.4],[0.045,2.0,0.7,1.4],
[0.055,2.2,3.6,5.0],[0.062,3.4,5.7,7.0],[0.068,4.3,6.9,8.0],[0.072,3.7,5.2,7.0,8.6],[0.078,4.0,5.6,7.3,8.4],
[0.082,3.2,5.0,6.8,8.9],[0.088,3.5,5.8,7.5],[0.092,2.8,4.5,6.3],[0.098,2.6,4.3,6.0],[0.105,2.0,3.6,5.2],
[0.05,5.5,6.8],[0.055,7.5],[0.105,6.2,8.0],[0.11,7.1],[0.115,6.0],[0.045,4.9],
[0.275,-0.6,0.2,0.8],[0.285,-0.1,-1.3,0.5],[0.295,0.4,-0.4,-1.0],[0.305,-0.9,0.1,1.0],[0.315,0.6,-0.7,0.0],[0.325,-0.3,0.3,-1.5],[0.335,0.9,-0.2,-0.7],[0.345,-0.5,0.7,-0.3],
[0.355,-0.6,0.1,0.8],[0.365,-0.2,-1.3,0.5],[0.375,0.4,-0.5,-1.0],[0.385,-0.9,0.1,0.9],[0.395,0.6,-0.8,0.0],[0.405,-0.3,0.3,-1.6],[0.415,0.8,-0.2,-0.7],[0.425,-0.5,0.6,-0.3],
[0.435,-0.7,0.2,0.8],[0.445,-0.1,-1.4,0.5],[0.455,0.4,-0.4,-1.1],[0.465,-1.0,0.1,1.0],[0.475,0.6,-0.7,-0.1],[0.485,-0.3,0.2,-1.5],[0.495,0.9,-0.3,-0.7],[0.505,-0.6,0.7,-0.3],
[0.515,-0.6,0.2,0.7],[0.525,-0.1,-1.3,0.4],[0.535,0.3,-0.4,-1.0],[0.545,-0.9,0.0,1.0],[0.555,0.5,-0.7,0.0],[0.565,-0.3,0.3,-1.4],[0.575,0.9,-0.2,-0.8],[0.585,-0.5,0.7,-0.4],
[0.595,-0.6,0.2,0.8],[0.605,-0.1,-1.3,0.5],[0.615,0.4,-0.4,-1.0],[0.625,-0.9,0.1,1.0],[0.635,0.6,-0.7,0.0],[0.645,-0.3,0.3,-1.5],[0.655,0.9,-0.2,-0.7],[0.665,-0.5,0.7,-0.3],
[0.675,-0.7,0.1,0.8],[0.685,-0.2,-1.3,0.5],[0.695,0.3,-0.5,-1.0],[0.705,-0.9,0.1,0.9],[0.715,0.6,-0.8,0.0],[0.725,-0.4,0.3,-1.5],[0.735,0.8,-0.2,-0.8],[0.745,-0.5,0.6,-0.3],
[0.755,-0.7,0.2,0.7],[0.765,-0.2,-1.4,0.4],[0.775,0.3,-0.5,-1.1],[0.785,-1.0,0.0,0.9],[0.795,0.5,-0.8,-0.1]
];
const bovineRedDots = [
[-0.085,0.4,-0.4,1.5,0.0],[-0.075,-0.8,0.7,0.2,1.0],[-0.065,0.8,-0.1,-0.7,1.7],[-0.055,0.1,1.2,-0.4,0.6],[-0.045,0.4,-1.2,0.8,-0.2],
[-0.035,1.4,0.0,-0.5,0.5],[-0.025,-0.6,0.0,0.5,1.2],[-0.015,-0.3,0.3,0.9,-1.0],[-0.005,0.4,-0.4,1.5,0.0],[0.005,-0.8,0.7,0.2,1.0],
[0.015,0.8,-0.1,-0.7,1.7],[0.025,1.3,2.4,0.8,1.8],[0.035,1.6,0.0,2.0,1.0],[0.045,2.6,1.2,0.7,1.7],[0.055,0.6,1.2,1.7,2.4],
[0.065,0.9,1.5,2.1,0.2],[0.075,1.6,0.8,2.7,1.2],[0.085,0.4,1.9,1.4,2.2],[0.095,2.0,1.1,0.5,2.9],
[0.105,1.9,3.0,1.4,2.4],[0.115,2.5,0.9,2.9,1.9],[0.125,3.7,2.3,1.8,2.8],[0.135,1.8,2.4,2.9,3.6],[0.145,2.5,3.1,3.7,1.8],
[0.155,3.8,3.0,4.9,3.4],[0.165,3.0,4.5,4.0,4.8],[0.175,5.1,4.2,3.6,6.0],[0.185,4.8,5.9,4.3,5.3],[0.195,5.5,3.9,5.9,4.9],
[0.205,6.9,5.5,5.0,6.0],[0.215,5.3,5.9,6.4,7.1],[0.225,6.1,6.7,7.3,5.4],[0.235,7.2,6.4,8.3,6.8],[0.245,6.5,8.0,7.5,8.3],
[0.255,8.5,7.6,7.0,9.4,9.7],[0.265,8.2,9.3,7.7,8.7,10.3],[0.275,8.9,7.3,9.3,8.3],
[0.285,-0.7,0.0,0.8,-1.6],[0.295,0.7,-0.5,-1.2,1.8],[0.305,1.4,-0.3,-1.0,0.3],[0.315,0.2,-0.9,1.5,-0.4,2.7],[0.325,-0.2,1.1,-0.8,0.4],
[0.335,-1.1,-0.3,0.3,1.2],[0.345,-1.4,0.5,-0.1,0.9],[0.355,0.1,-1.8,0.6,-0.6],[0.365,-0.8,0.1,0.9,-1.5],[0.375,0.6,-0.6,-1.3,1.7],
[0.385,1.5,-0.2,-1.1,0.2],[0.395,0.3,-1.0,1.6,-0.3],[0.405,-0.1,1.2,-0.9,0.5],[0.415,-1.0,-0.4,0.4,1.1],[0.425,-1.3,0.4,0.0,1.0],
[0.435,0.2,-1.7,0.7,-0.7],[0.445,-0.7,0.0,0.8,-1.6],[0.455,0.7,-0.5,-1.2,1.8],[0.465,1.4,-0.3,-1.0,0.3],[0.475,0.2,-0.9,1.5,-0.4],
[0.485,-0.2,1.1,-0.8,0.4],[0.495,-1.1,-0.3,0.3,1.2],[0.505,-1.4,0.5,-0.1,0.9],[0.515,0.1,-1.8,0.6,-0.6],[0.525,-0.8,0.1,0.9,-1.5],
[0.535,0.6,-0.6,-1.3,1.7],[0.545,1.5,-0.2,-1.1,0.2],[0.555,0.3,-1.0,1.6,-0.3],[0.565,-0.1,1.2,-0.9,0.5],[0.575,-1.0,-0.4,0.4,1.1],
[0.585,-1.3,0.4,0.0,1.0,-2.0],[0.595,0.2,-1.7,0.7,-0.7],[0.605,-0.7,0.0,0.8,-1.6],[0.615,0.7,-0.5,-1.2,1.8],[0.625,1.4,-0.3,-1.0,0.3],
[0.635,0.2,-0.9,1.5,-0.4],[0.645,-0.2,1.1,-0.8,0.4],[0.655,-1.1,-0.3,0.3,1.2],[0.665,-1.4,0.5,-0.1,0.9],[0.675,0.1,-1.8,0.6,-0.6],
[0.685,-0.8,0.1,0.9,-1.5],[0.695,0.6,-0.6,-1.3,1.7,-2.2],[0.705,1.5,-0.2,-1.1,0.2,2.1],[0.715,0.3,-1.0,1.6,-0.3],[0.725,-0.1,1.2,-0.9,0.5],
[0.735,-1.0,-0.4,0.4,1.1],[0.745,-1.3,0.4,0.0,1.0],[0.755,0.2,-1.7,0.7,-0.7],[0.765,-0.7,0.0,0.8,-1.6],[0.775,0.7,-0.5,-1.2,1.8],
[0.785,1.4,-0.3,-1.0,0.3],[0.795,0.2,-0.9,1.5,-0.4]
];
const bovineRedDotsExtra = [
[-0.08,-0.3,0.5,1.1],[-0.07,0.2,-1.0,0.8],[-0.06,0.7,-0.1,-0.7],[-0.05,-0.6,0.4,1.3],[-0.04,0.9,-0.4,0.3],
[-0.03,0.0,0.6,-1.2],[-0.02,1.2,0.1,-0.4],[-0.01,-0.2,1.0,0.0],[0.00,-0.3,0.5,1.1],[0.01,0.2,-1.0,0.8],
[0.02,1.9,1.1,0.5],[0.03,0.6,1.6,2.5],[0.04,2.1,0.8,1.5],[0.05,1.2,1.8,0.0],[0.06,2.4,1.3,0.8],[0.07,1.0,2.2,1.2],
[0.08,0.9,1.7,2.3],[0.09,1.4,0.2,2.0],[0.10,2.2,1.4,0.8],
[0.11,1.4,2.4,3.3],[0.12,3.1,1.8,2.5],[0.13,2.4,3.0,1.2],[0.14,3.8,2.7,2.2],[0.15,2.9,4.1,3.1],[0.16,3.3,4.1,4.7],
[0.17,4.3,3.1,4.9],[0.18,5.2,4.4,3.8],[0.19,4.3,5.3,6.2],[0.20,6.2,4.9,5.6],[0.21,5.7,6.3,4.5],[0.22,7.4,6.3,5.8],
[0.23,6.4,7.6,6.6],[0.24,6.8,7.6,8.2],[0.25,7.7,6.5,8.3],[0.26,8.6,7.8,7.2],[0.27,7.7,8.7,9.6],
[0.112,3.8,0.6],[0.132,4.2,1.0],[0.152,4.9,1.8],[0.172,5.9,2.7],[0.192,6.7,3.5],[0.212,7.5,4.3],[0.232,8.4,5.2],[0.252,9.3,6.1],[0.27,10.0,6.9],
[0.29,0.6,-0.7,0.0],[0.30,-0.3,0.3,-1.5],[0.31,0.9,-0.2,-0.7],[0.32,-0.5,0.7,-0.3],[0.33,-0.6,0.2,0.8],[0.34,-0.1,-1.3,0.5],[0.35,0.4,-0.4,-1.0],[0.36,-0.9,0.1,1.0],
[0.37,0.5,-0.7,0.0],[0.38,-0.3,0.2,-1.5],[0.39,0.9,-0.3,-0.7],[0.40,-0.6,0.7,-0.3],[0.41,-0.6,0.1,0.8],[0.42,-0.2,-1.3,0.5],[0.43,0.4,-0.5,-1.0],[0.44,-0.9,0.1,0.9],
[0.45,0.6,-0.7,-0.1],[0.46,-0.3,0.3,-1.6],[0.47,0.8,-0.2,-0.7],[0.48,-0.5,0.7,-0.3],[0.49,-0.7,0.2,0.8],[0.50,-0.1,-1.4,0.5],[0.51,0.4,-0.4,-1.1],[0.52,-1.0,0.1,1.0],
[0.53,0.6,-0.7,0.0],[0.54,-0.3,0.3,-1.4],[0.55,0.9,-0.2,-0.8],[0.56,-0.5,0.7,-0.4],[0.57,-0.6,0.2,0.7],[0.58,-0.1,-1.3,0.4],[0.59,0.3,-0.4,-1.0],[0.60,-0.9,0.0,1.0],
[0.61,0.6,-0.7,0.0],[0.62,-0.3,0.3,-1.5],[0.63,0.9,-0.2,-0.7],[0.64,-0.5,0.7,-0.3],[0.65,-0.6,0.2,0.8],[0.66,-0.1,-1.3,0.5],[0.67,0.4,-0.4,-1.0],[0.68,-0.9,0.1,1.0],
[0.69,0.6,-0.8,0.0],[0.70,-0.4,0.3,-1.5],[0.71,0.8,-0.2,-0.8],[0.72,-0.5,0.6,-0.3],[0.73,-0.7,0.1,0.8],[0.74,-0.2,-1.3,0.5],[0.75,0.3,-0.5,-1.0],[0.76,-0.9,0.1,0.9],
[0.77,0.5,-0.8,-0.1],[0.78,-0.4,0.2,-1.6],[0.79,0.8,-0.3,-0.8],[0.80,-0.6,0.6,-0.4]
];
const bovineBrownLine = [
[-0.075,0.2],[-0.071,0.5],[-0.064,0.0],[-0.060,0.4],[-0.053,-0.1],[-0.049,0.5],[-0.042,0.0],[-0.038,0.4],[-0.031,-0.1],[-0.027,0.5],
[-0.020,0.0],[-0.016,0.4],[-0.009,-0.1],[-0.005,0.4],[-0.002,2.0],[0.004,1.3],[0.008,1.9],[0.014,1.2],[0.018,1.8],[0.024,1.1],
[0.028,1.7],[0.035,1.2],[0.040,2.0],[0.045,1.4],[0.050,2.5],[0.055,1.9],[0.058,3.1],[0.064,2.3],[0.068,3.3],[0.074,2.6],
[0.078,3.6],[0.085,2.9],[0.082,4.6],[0.087,3.8],[0.081,5.4],[0.086,4.7],[0.079,6.1],[0.084,5.5],[0.078,6.9],[0.084,6.2],
[0.079,7.6],[0.085,7.0],[0.080,8.2],[0.086,7.7],[0.077,8.6],[0.063,9.2],[0.277,0.1],
[0.281,0.5],[0.288,-0.4],[0.292,0.3],[0.299,-0.5],[0.303,0.2],[0.310,-0.4],[0.314,0.3],[0.321,-0.6],[0.325,0.2],[0.332,-0.5],
[0.336,0.3],[0.343,-0.4],[0.347,0.4],[0.354,-0.5],[0.358,0.2],[0.365,-0.4],[0.369,0.3],[0.376,-0.5],[0.380,0.2],[0.387,-0.4],
[0.391,0.3],[0.398,-0.5],[0.402,0.2],[0.409,-0.4],[0.413,0.4],[0.420,-0.5],[0.424,0.2],[0.431,-0.4],[0.435,0.3],[0.442,-0.5],
[0.446,0.2],[0.453,-0.5],[0.457,0.3],[0.464,-0.4],[0.468,0.2],[0.475,-0.5],[0.479,0.3],[0.486,-0.4],[0.490,0.2],[0.497,-0.5],
[0.501,0.3],[0.508,-0.4],[0.512,0.2],[0.519,-0.5],[0.523,0.2],[0.530,-0.4],[0.534,0.9],[0.540,-0.3],[0.544,0.3],[0.551,-0.5],
[0.555,0.2],[0.562,-0.4],[0.566,0.2],[0.573,-0.5],[0.577,0.2],[0.584,-0.4],[0.588,0.3],[0.595,-0.5],[0.599,0.2],[0.606,-0.4],
[0.610,0.2],[0.617,-0.5],[0.621,0.1],[0.628,-0.5],[0.632,0.2],[0.639,-0.4],[0.643,0.2],[0.650,-0.5],[0.654,0.1],[0.661,-0.5],
[0.665,0.2],[0.672,-0.4],[0.676,0.1],[0.683,-0.5],[0.687,0.2],[0.694,-0.5],[0.698,0.1],[0.705,-0.4],[0.709,0.2],[0.716,-0.5],
[0.720,0.1],[0.727,-0.5],[0.731,0.0],[0.738,-0.5],[0.742,0.1],[0.749,-0.4],[0.753,0.0],[0.760,-0.6],[0.764,0.7],[0.771,-0.4],
[0.775,0.1],[0.782,-0.6],[0.786,0.0],[0.793,-0.5],[0.797,-0.1],[0.800,-0.6]
];
const bovineRedLine = [
[-0.075,0.1],[-0.071,0.4],[-0.066,-0.1],[-0.062,0.4],[-0.056,-0.1],[-0.052,0.3],[-0.046,-0.1],[-0.042,0.4],[-0.036,-0.1],[-0.032,0.4],
[-0.026,0.0],[-0.022,0.4],[-0.016,-0.1],[-0.012,0.4],[-0.006,0.0],[-0.002,0.4],[0.004,-0.1],[0.008,0.4],[0.014,0.0],[0.018,0.5],
[0.022,1.7],[0.028,1.1],[0.033,1.8],[0.040,1.2],[0.046,1.7],[0.054,1.3],[0.060,1.8],[0.068,1.3],[0.074,1.8],[0.082,1.2],
[0.088,1.7],[0.094,1.1],[0.100,1.8],[0.106,2.4],[0.112,1.8],[0.118,2.7],[0.124,2.0],[0.130,2.9],[0.136,2.1],[0.140,2.5],
[0.146,3.1],[0.150,2.8],[0.154,3.7],[0.160,3.3],[0.164,4.1],[0.170,3.7],[0.174,4.6],[0.180,4.1],[0.184,5.0],[0.190,4.5],
[0.194,5.4],[0.200,4.9],[0.204,5.8],[0.210,5.3],[0.214,6.2],[0.220,5.8],[0.224,6.7],[0.230,6.2],[0.234,7.1],[0.240,6.7],
[0.244,7.6],[0.250,7.1],[0.254,8.0],[0.260,7.6],[0.264,8.4],[0.268,7.9],[0.272,8.9],[0.274,8.0],[0.275,9.2],[0.277,-0.5],[0.279,0.3],
[0.30,-0.5],[0.305,0.3],[0.32,-0.5],[0.325,0.3],[0.34,-0.4],[0.345,0.4],[0.36,-0.5],[0.365,0.2],[0.38,-0.5],[0.385,0.3],
[0.40,-0.4],[0.405,0.3],[0.42,-0.5],[0.425,0.2],[0.44,-0.4],[0.445,0.3],[0.46,-0.5],[0.465,0.2],[0.48,-0.4],[0.485,0.3],
[0.50,-0.5],[0.505,0.2],[0.52,-0.4],[0.525,0.9],[0.54,-0.5],[0.545,0.2],[0.56,-0.4],[0.565,0.2],[0.58,-0.5],[0.585,0.2],
[0.60,-0.4],[0.605,0.2],[0.62,-0.5],[0.625,0.1],[0.64,-0.4],[0.645,0.2],[0.66,-0.5],[0.665,0.1],[0.68,-0.5],[0.685,0.1],
[0.70,-0.4],[0.705,0.1],[0.72,-0.5],[0.725,0.0],[0.74,-0.5],[0.745,0.1],[0.76,-0.6],[0.765,0.0],[0.78,-0.6],[0.785,0.0],[0.80,-0.5]
];

// Panel 3: Human
const humanOrangeDots = [
[-0.20,-0.6,0.0,0.5,1.2],[-0.19,-0.3,0.3,0.9,-1.0],[-0.18,0.4,-0.4,1.5,0.0],[-0.17,-0.8,0.7,0.2,1.0],[-0.16,0.8,-0.1,-0.7,1.7],
[-0.15,0.1,1.2,-0.4,0.6],[-0.14,0.4,-1.2,0.8,-0.2],[-0.13,1.4,0.0,-0.5,0.5],[-0.12,-0.6,0.0,0.5,1.2],[-0.11,-0.3,0.3,0.9,-1.0],
[-0.10,0.4,-0.4,1.5,0.0],[-0.09,-0.8,0.7,0.2,1.0],[-0.08,0.8,-0.1,-0.7,1.7],[-0.07,0.2,1.3,-0.3,0.7],[-0.06,0.5,-1.1,0.9,-0.1],
[-0.05,1.6,0.2,-0.3,0.7],[-0.04,-0.4,0.2,0.7,1.4],[-0.03,0.0,0.6,1.2,-0.7],[-0.02,0.7,-0.1,1.8,0.3],[-0.01,-0.4,1.1,0.6,1.4],
[0.00,0.3,1.0,1.7,-0.5,-1.7,2.3],[0.01,0.2,1.1,1.9,-0.6,2.7],[0.02,0.5,1.3,2.1,-0.4,3.4],[0.03,0.6,1.5,2.3,-0.2,3.0],
[0.04,0.8,1.7,2.5,0.1,3.7],[0.05,1.0,1.9,2.8,0.4,3.6],[0.06,1.3,2.3,3.1,0.7,3.9],[0.07,1.6,2.5,3.4,1.1,4.2,5.4],
[0.08,1.9,2.8,3.6,4.5,5.6,1.3],[0.09,2.2,3.1,4.0,4.9,6.0,2.6],[0.10,2.5,3.4,4.3,5.2,6.2,7.5],[0.105,3.0,4.6,5.9],
[0.11,3.0,3.9,4.8,5.7,6.7,7.6],[0.115,3.6,5.0,6.5],[0.12,3.4,4.4,5.3,6.2,7.1,8.0,9.0],[0.125,4.2,5.7,7.3,8.6],
[0.13,4.0,4.9,5.8,6.7,7.6,8.5,9.4,10.2],[0.135,4.7,6.3,7.9,9.9],[0.14,4.5,5.4,6.3,7.2,8.1,9.0,9.8,10.6,11.4,13.0],
[0.145,5.8,7.6,9.4,11.0,12.8],[0.15,5.2,6.1,7.0,7.9,8.8,9.7,10.6,11.5,12.4,13.3,14.0],[0.155,6.5,8.3,10.1,11.9,13.7],
[0.16,6.0,6.9,7.8,8.7,9.6,10.5,11.4,12.3,13.2,14.1,15.0,15.8],[0.165,7.2,9.1,10.9,12.7,14.5],
[0.17,6.8,7.7,8.6,9.5,10.4,11.3,12.2,13.1,14.0,14.9,15.6],[0.175,8.0,9.9,11.7,13.5,15.2],
[0.18,7.5,8.4,9.3,10.2,11.1,12.0,12.9,13.8,14.7,15.3],[0.185,8.8,10.6,12.4,14.2],
[0.19,8.1,9.0,9.9,10.8,11.7,12.6,13.5,14.4,15.1],[0.195,9.5,11.2,12.9,14.7],[0.20,8.6,9.6,10.5,11.4,12.3,13.2,14.0],
[0.21,9.4,10.4,11.1,11.6,12.5,13.1],[0.22,10.2,11.8,12.6],[0.23,12.4],
[0.51,1.5,0.6,-0.2],[0.52,0.9,0.2,-0.5,1.3],[0.53,-0.6,0.5,1.1,-1.2],[0.54,0.4,-0.7,1.7,-0.2],[0.55,-1.2,0.7,0.1,1.1],
[0.56,0.9,-0.3,-1.0,2.0],[0.57,0.0,1.3,-0.6,0.6],[0.58,0.3,-1.6,0.8,-0.4],[0.59,1.6,-0.1,-0.8,0.5],[0.60,-1.0,-0.2,0.4,1.3],
[0.61,-0.6,0.1,0.9,-1.5],[0.62,0.3,-0.8,1.6,-0.3],[0.63,-1.4,0.5,-0.1,0.9],[0.64,0.6,-0.6,-1.3,1.7],[0.65,-0.3,1.0,-0.9,0.3],
[0.66,0.0,-1.2,0.5,-0.7],[0.67,-0.8,-0.3,-1.1],[0.68,-0.9,-1.4],[0.69,-1.5]
];
const humanOrangeDotsExtra = [
[-0.195,-0.3,0.5,1.1],[-0.185,0.2,-1.0,0.8],[-0.175,0.7,-0.1,-0.7],[-0.165,-0.6,0.4,1.3],[-0.155,0.9,-0.4,0.3],
[-0.145,0.0,0.6,-1.2],[-0.135,1.2,0.1,-0.4],[-0.125,-0.2,1.0,0.0],[-0.115,-0.3,0.5,1.1],[-0.105,0.2,-1.0,0.8],
[-0.095,0.7,-0.1,-0.7],[-0.085,-0.6,0.4,1.3],[-0.075,1.0,-0.4,0.4],[-0.065,0.1,0.7,-1.1],[-0.055,1.4,0.3,-0.3],
[-0.045,0.0,1.2,0.2],[-0.035,0.0,0.8,1.4],[-0.025,0.5,-0.7,1.1],[-0.015,1.1,0.3,-0.4],[-0.005,-0.1,0.9,1.8],
[0.005,0.6,1.4,2.0],[0.015,1.1,0.0,1.8],[0.025,1.8,0.9,0.3],[0.035,0.7,1.7,2.6],[0.045,2.4,1.1,1.8],
[0.055,1.6,2.3,0.6],[0.065,3.2,2.1,1.5],[0.075,2.2,3.5,2.6],[0.085,2.5,3.4,4.0],[0.095,3.4,2.4,4.4],
[0.108,4.0,5.3,6.9],[0.112,4.5,6.0,7.2],[0.118,4.9,6.7,8.3],[0.122,5.1,6.8,8.5],[0.128,5.5,7.0,8.9,10.8],[0.132,6.2,7.8,9.3,11.0],
[0.138,6.6,8.3,10.3,12.1],[0.142,7.4,9.1,10.9,12.2],[0.148,8.0,9.8,11.8,13.6],[0.152,8.5,10.2,12.1,14.6],[0.158,9.0,10.9,12.8,14.8],
[0.162,8.2,10.0,11.8,13.5,15.4],[0.168,8.7,10.6,12.5,14.3,15.1],[0.172,9.2,11.0,12.9,14.6],[0.178,9.0,10.9,12.7,14.1],
[0.182,9.8,11.6,13.4,14.9],[0.188,10.0,11.9,13.8],[0.192,10.4,12.2,13.9],[0.198,10.9,12.4,13.6],[0.205,11.0,12.8],[0.215,10.7,12.0],
[0.515,0.3,1.0,-0.4],[0.525,-0.2,0.6,-0.9],[0.535,0.5,-0.3,0.9],[0.545,-0.7,0.3,1.2],[0.555,0.8,-0.5,0.2],[0.565,-0.1,0.5,-1.3],
[0.575,1.1,0.0,-0.5],[0.585,-0.3,0.9,-0.1],[0.595,-0.5,0.3,0.9],[0.605,0.0,-1.2,0.6],[0.615,0.4,-0.4,-1.0],[0.625,-0.9,0.1,1.0],
[0.635,0.5,-0.8,-0.1],[0.645,-0.4,0.2,-1.6],[0.655,0.6,-0.4,-0.9],[0.665,-0.7,0.3,-0.5],[0.675,-0.6,-1.2],[0.685,-1.0]
];
const humanOrangeDotsOuter = [
[0.04,3.0,2.6],[0.055,3.6],[0.063,4.0,4.4],[0.075,5.0,4.7],[0.085,5.5],[0.09,6.0,6.4],[0.102,7.0,6.6],[0.11,7.6],[0.116,8.0,8.4],
[0.126,9.0,8.7],[0.131,10.0,9.5],[0.136,11.0,10.6],[0.14,12.0,12.6],[0.139,13.0],[0.143,14.0,13.6],[0.15,14.6],
[0.135,3.0,3.4],[0.145,3.7],[0.158,4.0,4.4],[0.17,5.0,4.8],[0.178,5.6],[0.185,6.0,6.5],[0.197,7.0,7.4],[0.205,7.7],[0.211,8.0,8.5],
[0.215,9.0,9.5],[0.217,10.0,10.6],[0.218,11.0,11.5],[0.215,12.0],[0.21,13.0,12.6],[0.205,14.0,13.5],[0.192,15.0,14.6]
];
const humanRedDots = [
[-0.195,-0.8,-0.2,0.3,1.0],[-0.185,-0.5,0.1,0.7,-1.2],[-0.175,0.2,-0.6,1.3,-0.2],[-0.165,-1.0,0.5,0.0,0.8],[-0.155,0.6,-0.3,-0.9,1.5],
[-0.145,-0.1,1.0,-0.6,0.4],[-0.135,0.2,-1.4,0.6,-0.4],[-0.125,1.2,-0.2,-0.7,0.3],[-0.115,-0.8,-0.2,0.3,1.0],[-0.105,-0.5,0.1,0.7,-1.2],
[-0.095,0.2,-0.6,1.3,-0.2],[-0.085,-1.0,0.5,0.0,0.8],[-0.075,0.6,-0.3,-0.9,1.5],[-0.065,-0.1,1.0,-0.6,0.4],[-0.055,0.2,-1.4,0.6,-0.4],
[-0.045,1.3,-0.1,-0.6,0.4],[-0.035,-0.7,-0.1,0.4,1.1],[-0.025,-0.3,0.3,0.9,-1.0],[-0.015,0.4,-0.4,1.5,0.0],[-0.005,-0.7,0.8,0.3,1.1],
[0.005,1.0,0.1,-0.5,1.9],[0.015,0.4,1.5,-0.1,0.9],[0.025,0.8,-0.8,1.2,0.2],[0.035,1.9,0.5,0.0,1.0],[0.045,0.0,0.6,1.1,1.8],
[0.055,0.6,1.2,1.8,-0.1],[0.065,1.8,1.0,2.9,1.4],[0.075,0.9,2.4,1.9,2.7],[0.085,2.7,1.8,1.2,3.6],[0.095,2.1,3.2,1.6,2.6],
[0.105,2.6,1.0,3.0,2.0],[0.115,3.7,2.3,1.8,2.8],[0.125,1.9,2.5,3.0,3.7],[0.135,2.3,2.9,3.5,1.6],[0.145,3.2,2.4,4.3,2.8],
[0.155,2.2,3.7,3.2,4.0],[0.165,4.0,3.1,2.5,4.9],[0.175,3.5,4.6,3.0,4.0],[0.185,4.1,2.5,4.5,3.5],[0.195,5.4,4.0,3.5,4.5],
[0.205,3.7,4.3,4.8,5.5],[0.215,4.2,4.8,5.4,3.5],[0.225,5.2,4.4,6.3,4.8],[0.235,4.4,5.9,5.4,6.2],[0.245,6.3,5.4,4.8,7.2],
[0.255,5.9,7.0,5.4,6.4],[0.265,6.5,4.9,6.9,5.9],[0.275,7.8,6.4,5.9,6.9],[0.285,6.1,6.7,7.2,7.9],[0.295,6.7,7.3,7.9,6.0],
[0.305,7.7,6.9,8.8,7.3],[0.315,6.8,8.3,7.8,8.6],[0.325,8.7,7.8,7.2,9.6],[0.335,8.3,9.4,7.8,8.8],[0.345,8.9,7.3,9.3,8.3],
[0.355,10.2,8.8,8.3,9.3],[0.365,8.5,9.1,9.6,10.3],[0.375,9.0,9.6,10.2,8.3],[0.385,10.0,9.2,11.1,9.6],[0.395,9.2,10.7,10.2,11.0],
[0.405,11.2,10.3,9.7,12.1],[0.415,10.9,12.0,10.4,11.4],[0.425,11.5,9.9,11.9,10.9],[0.435,12.8,11.4,10.9,11.9],[0.445,11.1,11.7,12.2,12.9],
[0.455,11.9,12.5,13.1,11.2],[0.465,13.0,12.2,14.1,12.6],[0.475,12.2,13.7,13.2,14.0],[0.485,14.1,13.2,12.6,15.0],[0.495,13.9,15.0,13.4,14.4],
[0.505,14.5,12.9,14.9,13.9],[0.515,15.9,14.5,14.0,15.0],[0.525,14.2,14.8,15.3,15.8],
[0.535,-0.7,0.0,0.8,-1.6],[0.545,0.7,-0.5,-1.2,1.8],[0.555,1.4,-0.3,-1.0,0.3],[0.565,0.2,-0.9,1.5,-0.4],[0.575,-0.2,1.1,-0.8,0.4],
[0.585,-1.1,-0.3,0.3,1.2],[0.595,-1.4,0.5,-0.1,0.9],[0.605,0.1,-1.8,0.6,-0.6],[0.615,-0.7,0.0,0.8,1.9],[0.625,0.7,-0.5,-1.2,1.8],
[0.635,1.4,-0.3,-1.0,0.3],[0.645,0.1,-1.0,1.5,-0.5],[0.655,-0.4,0.9,-1.0,0.2],[0.665,-0.9,-0.2,0.3]
];
const humanRedDotsExtra = [
[-0.19,0.7,-0.6,0.1],[-0.18,-0.2,0.4,-1.4],[-0.17,1.0,-0.1,-0.6],[-0.16,-0.4,0.8,-0.2],[-0.15,-0.5,0.3,0.9],[-0.14,0.0,-1.2,0.6],
[-0.13,0.5,-0.3,-0.9],[-0.12,-0.8,0.2,1.1],[-0.11,0.7,-0.6,0.1],[-0.10,-0.2,0.4,-1.4],[-0.09,1.0,-0.1,-0.6],[-0.08,-0.4,0.8,-0.2],
[-0.07,-0.5,0.3,0.9],[-0.06,0.0,-1.2,0.6],[-0.05,0.6,-0.2,-0.8],[-0.04,-0.7,0.3,1.2],[-0.03,0.9,-0.5,0.3],[-0.02,0.0,0.6,-1.2],
[-0.01,1.3,0.2,-0.4],[0.00,0.0,1.2,0.2],[0.01,0.0,0.8,1.4],[0.02,0.6,-0.7,1.2],[0.03,1.2,0.4,-0.3],[0.04,0.0,1.0,1.9],
[0.05,0.4,1.4,2.1],[0.06,1.4,0.0,2.1],[0.07,2.4,1.4,0.7],[0.08,1.0,2.2,3.3],[0.09,3.0,1.5,2.3],[0.10,2.1,2.8,0.6],
[0.11,3.7,2.4,1.8],[0.12,2.1,3.6,2.4],[0.13,2.2,3.2,3.9],[0.14,2.9,1.5,3.6],[0.15,3.7,2.7,2.0],[0.16,2.3,3.5,4.6],
[0.17,4.3,2.8,3.6],[0.18,3.6,4.3,2.1],[0.19,5.3,4.0,3.4],[0.20,3.9,5.4,4.2],[0.21,4.0,5.0,5.7],[0.22,4.9,3.5,5.6],
[0.23,5.8,4.8,4.1],[0.24,4.6,5.8,6.9],[0.25,6.7,5.2,6.0],[0.26,6.0,6.7,4.5],[0.27,7.7,6.4,5.8],[0.28,6.3,7.8,6.6],
[0.29,6.5,7.5,8.2],[0.30,7.4,6.0,8.1],[0.31,8.3,7.3,6.6],[0.32,7.0,8.2,9.3],[0.33,9.1,7.6,8.4],[0.34,8.4,9.1,6.9],
[0.35,10.1,8.8,8.2],[0.36,8.7,10.2,9.0],[0.37,8.8,9.8,10.5],[0.38,9.7,8.3,10.4],[0.39,10.6,9.6,8.9],[0.40,9.4,10.6,11.7],
[0.41,11.6,10.1,10.9],[0.42,11.0,11.7,9.5],[0.43,12.7,11.4,10.8],[0.44,11.3,12.8,11.6],[0.45,11.6,12.6,13.3],[0.46,12.6,11.2,13.3],
[0.47,13.6,12.6,11.9],[0.48,12.4,13.6,14.7],[0.49,14.6,13.1,13.9],[0.50,14.0,14.7,12.5],[0.51,15.7,14.4,13.8],[0.52,14.4,15.9,14.7],
[0.54,0.6,-0.7,0.0],[0.55,-0.3,0.3,-1.5],[0.56,0.9,-0.2,-0.7],[0.57,-0.5,0.7,-0.3],[0.58,-0.6,0.2,0.8],[0.59,-0.1,-1.3,0.5],
[0.60,0.4,-0.4,-1.0],[0.61,-0.9,0.1,1.0],[0.62,0.6,-0.7,0.0],[0.63,-0.3,0.3,-1.5],[0.64,0.7,-0.3,-0.8],[0.65,-0.6,0.5,-0.4],[0.66,-0.8,-0.2]
];
const humanRedDotsOuter = [
[0.062,3.1,-0.3],[0.082,3.8,0.4,3.2],[0.102,4.1,0.6],[0.122,4.4,0.9,3.9],[0.142,4.7,1.2],[0.162,5.1,1.6,4.6],[0.182,5.6,2.0],
[0.202,6.2,2.6,5.6],[0.222,6.7,3.1],[0.242,7.4,3.8,6.8],[0.262,8.0,4.4],[0.282,8.6,5.0,8.0],[0.302,9.2,5.6],[0.322,9.8,6.2,9.2],
[0.342,10.4,6.8],[0.362,11.0,7.4,10.4],[0.382,11.5,7.9],[0.402,12.2,8.7,11.6],[0.422,13.0,9.4],[0.442,13.6,10.0,13.0],
[0.462,14.4,10.9],[0.482,15.1,11.6,14.6],[0.502,15.8,12.4],[0.522,16.0,13.1]
];
const humanBrownLine = [
[-0.200,0.3],[-0.196,-0.2],[-0.190,0.4],[-0.186,-0.2],[-0.180,0.3],[-0.176,-0.3],[-0.170,0.3],[-0.166,-0.2],[-0.160,0.4],[-0.156,-0.3],
[-0.150,0.3],[-0.146,-0.4],[-0.140,0.2],[-0.136,-0.3],[-0.130,0.4],[-0.126,-0.3],[-0.120,0.3],[-0.116,-0.4],[-0.110,0.3],[-0.106,-0.3],
[-0.100,0.4],[-0.096,-0.2],[-0.090,0.4],[-0.086,-0.3],[-0.080,0.5],[-0.076,-0.2],[-0.070,0.6],[-0.066,-0.1],[-0.060,0.7],[-0.056,0.0],
[-0.050,0.8],[-0.046,0.1],[-0.040,0.9],[-0.036,0.1],[-0.030,1.0],[-0.026,0.2],[-0.020,1.1],[-0.016,0.3],[-0.010,1.2],[-0.006,0.4],
[0.000,1.3],[0.004,0.6],[0.010,1.4],[0.014,0.7],[0.020,1.5],[0.024,0.8],[0.030,1.8],[0.034,1.1],[0.040,2.1],[0.044,1.4],
[0.050,2.4],[0.054,1.7],[0.060,2.7],[0.064,2.0],[0.070,3.0],[0.074,2.3],[0.080,3.3],[0.086,2.7],[0.092,3.5],[0.098,2.9],
[0.104,3.8],[0.110,3.4],[0.113,4.6],[0.120,4.0],[0.123,5.1],[0.130,4.6],[0.133,5.7],[0.140,5.2],[0.143,6.3],[0.150,5.9],
[0.152,7.1],[0.160,6.6],[0.161,7.8],[0.168,7.3],[0.169,8.5],[0.176,8.0],[0.175,9.3],[0.182,8.9],[0.180,10.1],[0.187,9.6],
[0.184,10.9],[0.191,10.5],[0.187,11.7],[0.194,11.3],[0.189,12.5],[0.196,12.1],[0.190,13.3],[0.195,12.9],[0.187,14.1],[0.192,13.7],
[0.182,14.8],[0.187,14.4],[0.167,15.5],[0.559,-1.2],[0.530,0.4],[0.536,-0.3],[0.540,0.2],[0.546,-0.4],[0.550,0.3],[0.556,-0.3],
[0.560,0.2],[0.566,-0.4],[0.570,0.2],[0.576,-0.4],[0.580,0.1],[0.586,-0.5],[0.590,0.2],[0.596,-0.4],[0.600,0.1],[0.606,-0.5],
[0.610,0.1],[0.616,-0.5],[0.620,0.0],[0.626,-0.6],[0.630,0.0],[0.636,-0.5],[0.640,-0.1],[0.646,-0.6],[0.650,-0.1],[0.656,-0.7],
[0.660,-0.1],[0.665,-0.6]
];
const humanRedLine = [
[-0.198,-0.3],[-0.193,0.3],[-0.186,-0.4],[-0.181,0.2],[-0.174,-0.5],[-0.169,0.2],[-0.162,-0.4],[-0.157,0.3],[-0.150,-0.5],[-0.145,0.1],
[-0.138,-0.4],[-0.133,0.2],[-0.126,-0.5],[-0.121,0.2],[-0.114,-0.4],[-0.109,0.3],[-0.102,-0.4],[-0.097,0.2],[-0.090,-0.5],[-0.085,0.2],
[-0.078,-0.4],[-0.073,0.3],[-0.066,-0.3],[-0.061,0.3],[-0.054,-0.3],[-0.049,0.4],[-0.042,-0.2],[-0.037,0.5],[-0.030,-0.1],[-0.025,0.5],
[-0.018,0.0],[-0.013,0.6],[-0.006,0.1],[-0.001,0.7],[0.006,0.2],[0.011,0.8],[0.018,0.3],[0.023,0.9],[0.030,0.3],[0.035,0.9],
[0.042,0.2],[0.047,0.8],[0.052,0.3],[0.055,1.4],[0.060,1.0],[0.064,1.9],[0.070,1.4],[0.074,2.1],[0.080,1.6],[0.084,2.3],
[0.090,1.8],[0.094,2.4],[0.100,1.9],[0.104,2.6],[0.110,2.1],[0.114,2.8],[0.120,2.3],[0.124,2.9],[0.130,2.4],[0.134,3.1],
[0.140,2.6],[0.144,3.3],[0.150,2.8],[0.154,3.6],[0.160,3.0],[0.164,3.8],[0.170,3.2],[0.174,4.0],[0.180,3.5],[0.184,4.3],
[0.190,3.8],[0.194,4.6],[0.200,4.1],[0.204,4.9],[0.210,4.4],[0.214,5.2],[0.220,4.7],[0.224,5.5],[0.230,5.0],[0.234,5.8],
[0.240,5.3],[0.244,6.1],[0.250,5.6],[0.254,6.4],[0.260,5.9],[0.264,6.7],[0.270,6.2],[0.274,7.0],[0.280,6.5],[0.284,7.3],
[0.290,6.8],[0.294,7.6],[0.300,7.1],[0.304,7.9],[0.310,7.4],[0.314,8.2],[0.320,7.7],[0.324,8.5],[0.330,8.0],[0.334,8.8],
[0.340,8.3],[0.344,9.1],[0.350,8.6],[0.354,9.4],[0.360,8.9],[0.364,9.7],[0.370,9.2],[0.374,10.0],[0.380,9.5],[0.384,10.3],
[0.390,9.8],[0.394,10.7],[0.400,10.2],[0.404,11.1],[0.410,10.6],[0.414,11.5],[0.420,11.0],[0.424,11.8],[0.430,11.3],[0.434,12.1],
[0.440,11.6],[0.444,12.5],[0.450,12.0],[0.454,12.9],[0.460,12.4],[0.464,13.3],[0.470,12.8],[0.474,13.7],[0.480,13.2],[0.484,14.0],
[0.490,13.5],[0.494,14.4],[0.500,13.9],[0.504,14.7],[0.510,14.2],[0.514,15.0],[0.518,14.4],[0.522,15.3],[0.525,14.7],[0.527,15.6],
[0.529,-1.2],[0.532,0.3],[0.538,-0.4],[0.543,0.2],[0.550,-0.5],[0.555,0.1],[0.562,-0.4],[0.567,0.2],[0.574,-0.5],[0.579,0.0],
[0.586,-0.5],[0.591,0.1],[0.598,-0.6],[0.603,0.0],[0.610,-0.5],[0.615,-0.1],[0.622,-0.6],[0.627,0.0],[0.634,-0.6],[0.639,-0.1],
[0.646,-0.7],[0.651,-0.1],[0.658,-0.8],[0.663,-0.2]
];

// ---------- STYLE ----------
const FONT = '"Liberation Sans", Arial, Helvetica, sans-serif';
const COLORS = { orange: '#ff8c00', red: '#f00000', brown: '#9a5205', darkred: '#b40000' };
const GRIDS = [
  { left: 70, top: 41, width: 417, height: 306 },
  { left: 70, top: 454, width: 417, height: 307 },
  { left: 70, top: 863, width: 417, height: 309 }
];
const TITLE_POS = [{ left: 123, top: 8 }, { left: 121, top: 418 }, { left: 120, top: 828 }];

const flat = cols => cols.flatMap(c => c.slice(1).map(y => [c[0], y]));
const panels = [
  { orange: [rabbitOrangeDots, rabbitOrangeDotsExtra, rabbitOrangeDotsOuter], red: [rabbitRedDots, rabbitRedDotsExtra, rabbitRedDotsOuter], brown: rabbitBrownLine, darkred: rabbitRedLine },
  { orange: [bovineOrangeDots, bovineOrangeDotsExtra], red: [bovineRedDots, bovineRedDotsExtra], brown: bovineBrownLine, darkred: bovineRedLine },
  { orange: [humanOrangeDots, humanOrangeDotsExtra, humanOrangeDotsOuter], red: [humanRedDots, humanRedDotsExtra, humanRedDotsOuter], brown: humanBrownLine, darkred: humanRedLine }
];

const tickStyle = { color: '#000', width: 1.2 };
const lineStyleAxis = { color: '#000', width: 1.3 };
const grid = [], xAxis = [], yAxis = [], series = [], title = [];

panels.forEach((p, i) => grid.push({ ...GRIDS[i], containLabel: false }));
panels.forEach((p, i) => grid.push({ ...GRIDS[i], containLabel: false }));

panels.forEach((p, i) => {
  const [xmin, xmax] = xRanges[i];
  const cx = { type: 'value', min: xmin, max: xmax, splitLine: { show: false } };
  const cy = { type: 'value', min: yRange[0], max: yRange[1], splitLine: { show: false } };
  xAxis.push(
    { ...cx, gridIndex: i, position: 'bottom',
      axisLine: { onZero: false, lineStyle: lineStyleAxis },
      axisTick: { inside: false, length: 5, customValues: xMajorTicks[i], lineStyle: tickStyle },
      axisLabel: { customValues: xMajorTicks[i], formatter: v => v.toFixed(1), fontSize: 11, color: '#111', margin: 10, fontFamily: FONT },
      name: 'distance (µm)', nameLocation: 'middle', nameGap: 33,
      nameTextStyle: { fontSize: 15, color: '#111', fontFamily: FONT } },
    { ...cx, gridIndex: i, position: 'top',
      axisLine: { onZero: false, lineStyle: lineStyleAxis },
      axisTick: { inside: false, length: 5, customValues: xMajorTicks[i], lineStyle: tickStyle },
      axisLabel: { show: false } },
    { ...cx, gridIndex: i + 3, position: 'bottom',
      axisLine: { show: false, onZero: false },
      axisTick: { inside: false, length: 3, customValues: xMinorTicks[i], lineStyle: tickStyle },
      axisLabel: { show: false } },
    { ...cx, gridIndex: i + 3, position: 'top',
      axisLine: { show: false, onZero: false },
      axisTick: { inside: false, length: 3, customValues: xMinorTicks[i], lineStyle: tickStyle },
      axisLabel: { show: false } }
  );
  yAxis.push(
    { ...cy, gridIndex: i, position: 'left',
      axisLine: { show: true, onZero: false, lineStyle: lineStyleAxis },
      axisTick: { show: true, inside: false, length: 5, customValues: yMajorTicks, lineStyle: tickStyle },
      axisLabel: { customValues: yMajorTicks, fontSize: 11, color: '#111', margin: 10, fontFamily: FONT },
      name: 'force (pN)', nameLocation: 'middle', nameGap: 44,
      nameTextStyle: { fontSize: 15, color: '#111', fontFamily: FONT } },
    { ...cy, gridIndex: i, position: 'right',
      axisLine: { show: true, onZero: false, lineStyle: lineStyleAxis },
      axisTick: { show: true, inside: false, length: 5, customValues: yMajorTicks, lineStyle: tickStyle },
      axisLabel: { show: false } },
    { ...cy, gridIndex: i + 3, position: 'left',
      axisLine: { show: false, onZero: false },
      axisTick: { show: true, inside: false, length: 3, customValues: yMinorTicks, lineStyle: tickStyle },
      axisLabel: { show: false } },
    { ...cy, gridIndex: i + 3, position: 'right',
      axisLine: { show: false, onZero: false },
      axisTick: { show: true, inside: false, length: 3, customValues: yMinorTicks, lineStyle: tickStyle },
      axisLabel: { show: false } }
  );
  const ax = { xAxisIndex: 4 * i, yAxisIndex: 4 * i };
  series.push(
    { type: 'scatter', ...ax, data: p.orange.flatMap(flat), symbol: 'rect', symbolSize: 2.4,
      itemStyle: { color: COLORS.orange }, silent: true, z: 2 },
    { type: 'scatter', ...ax, data: p.red.flatMap(flat), symbol: 'rect', symbolSize: 2.4,
      itemStyle: { color: COLORS.red }, silent: true, z: 3 },
    { type: 'line', ...ax, data: p.darkred, showSymbol: false, symbol: 'none',
      lineStyle: { color: COLORS.darkred, width: 2 }, silent: true, z: 4 },
    { type: 'line', ...ax, data: p.brown, showSymbol: false, symbol: 'none',
      lineStyle: { color: COLORS.brown, width: 2.8 }, silent: true, z: 5 }
  );
  title.push({ text: titles[i], ...TITLE_POS[i], padding: 0,
    textStyle: { fontSize: 21, fontWeight: 'bold', color: '#000', fontFamily: FONT } });
});

const chart = echarts.init(document.getElementById('c'), null, { renderer: 'canvas' });
chart.setOption({ animation: false, backgroundColor: '#fff', title, grid, xAxis, yAxis, series });
</script>
</body></html>
